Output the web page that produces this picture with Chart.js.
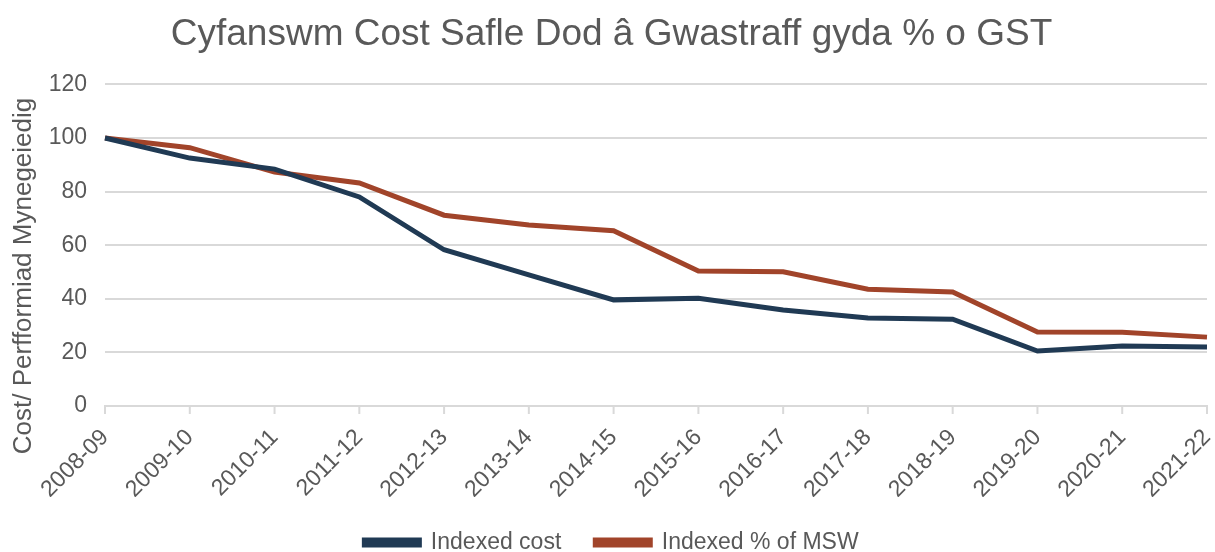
<!DOCTYPE html>
<html>
<head>
<meta charset="utf-8">
<script src="https://cdn.jsdelivr.net/npm/chart.js@4/dist/chart.umd.min.js"></script>
<style>
  html, body { margin: 0; padding: 0; background: #fff; }
  #wrap { width: 1215px; height: 552px; }
</style>
</head>
<body>
<div id="wrap"><canvas id="costChart"></canvas></div>
<script>
// data
const years = ['2008-09', '2009-10', '2010-11', '2011-12', '2012-13', '2013-14', '2014-15',
               '2015-16', '2016-17', '2017-18', '2018-19', '2019-20', '2020-21', '2021-22'];
const indexedCost = [100, 92.5, 88.4, 78, 58.3, 48.9, 39.6, 40.2, 35.8, 32.8, 32.4, 20.5, 22.4, 22.0];
const indexedMsw = [100, 96.4, 87.3, 83.2, 71.2, 67.5, 65.4, 50.4, 50.1, 43.6, 42.5, 27.6, 27.5, 25.7];
const yTicks = [0, 20, 40, 60, 80, 100, 120];
const yTitle = 'Cost/ Perfformiad Mynegeiedig';

const grey = '#595959';
const font = "'Liberation Sans', Arial, sans-serif";
Chart.defaults.font.family = font;
Chart.defaults.color = grey;

const ctx = document.getElementById('costChart').getContext('2d');

new Chart(ctx, {
    type: 'line',
    data: {
        labels: years,
        datasets: [{
            label: 'Indexed cost',
            data: indexedCost,
            borderColor: '#203a54',
            backgroundColor: '#203a54',
            borderWidth: 5,
            pointRadius: 0,
            tension: 0
        }, {
            label: 'Indexed % of MSW',
            data: indexedMsw,
            borderColor: '#a1442a',
            backgroundColor: '#a1442a',
            borderWidth: 5,
            pointRadius: 0,
            tension: 0
        }]
    },
    options: {
        responsive: true,
        maintainAspectRatio: false,
        animation: false,
        layout: { padding: { left: 16, right: 8, top: 0, bottom: -12 } },
        plugins: {
            title: {
                display: true,
                text: 'Cyfanswm Cost Safle Dod â Gwastraff gyda % o GST',
                font: { size: 37, weight: 'normal' },
                color: grey,
                padding: { top: 13, bottom: 27 }
            },
            legend: {
                position: 'bottom',
                labels: {
                    boxWidth: 55,
                    boxHeight: 5,
                    font: { size: 23 },
                    color: grey,
                    padding: 34
                }
            },
            tooltip: { enabled: false }
        },
        scales: {
            x: {
                offset: false,
                afterFit: axis => {
                    axis.height = 91;
                    axis.paddingLeft = 0;
                    axis.paddingRight = 0;
                },
                grid: { display: false, tickLength: 8 },
                border: { color: '#d9d9d9', width: 2 },
                ticks: {
                    minRotation: 45,
                    maxRotation: 45,
                    autoSkip: false,
                    padding: 10,
                    font: { size: 23 },
                    color: grey
                }
            },
            y: {
                min: 0,
                max: 120,
                afterFit: axis => { axis.width = 89; },
                afterBuildTicks: axis => { axis.ticks = yTicks.map(v => ({ value: v })); },
                grid: { color: '#d9d9d9', lineWidth: 2, drawTicks: false },
                border: { display: false },
                ticks: { font: { size: 23 }, color: grey, padding: 18 }
            }
        }
    },
    plugins: [{
        // tick marks under the x axis and the y title, placed like the original
        id: 'extras',
        afterDraw(chart) {
            const xs = chart.scales.x;
            const c = chart.ctx;
            c.save();
            c.strokeStyle = '#d9d9d9';
            c.lineWidth = 2;
            years.forEach((y, i) => {
                const px = xs.getPixelForTick(i);
                c.beginPath();
                c.moveTo(px, xs.top);
                c.lineTo(px, xs.top + 8);
                c.stroke();
            });
            c.translate(24, 276);
            c.rotate(-Math.PI / 2);
            c.fillStyle = grey;
            c.font = '26px ' + font;
            c.textAlign = 'center';
            c.textBaseline = 'middle';
            c.fillText(yTitle, 0, 0);
            c.restore();
        }
    }]
});
</script>
</body>
</html>
